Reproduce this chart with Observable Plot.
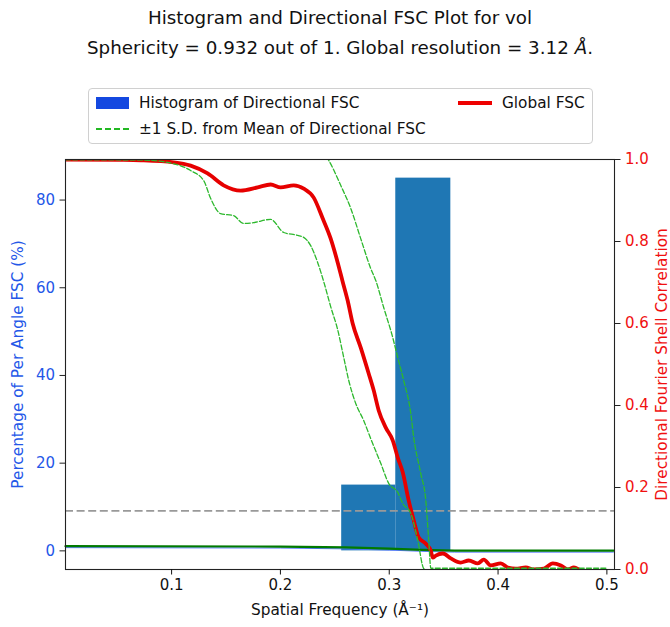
<!DOCTYPE html>
<html><head><meta charset="utf-8">
<script src="https://cdn.jsdelivr.net/npm/d3@7"></script>
<script src="https://cdn.jsdelivr.net/npm/@observablehq/plot@0.6"></script>
<style>
body{margin:0;background:#fff;font-family:"DejaVu Sans",sans-serif;}
#wrap{position:relative;width:670px;height:627px;}
.t{position:absolute;left:0;width:680px;text-align:center;font-size:18.3px;color:#111;white-space:nowrap;line-height:22px;}
#legend{position:absolute;left:88px;top:88px;width:503px;height:54px;border:1px solid #d0d0d0;border-radius:4px;background:#fff;font-size:15.3px;color:#111;line-height:18px;}
.li{position:absolute;white-space:nowrap;}
</style></head>
<body><div id="wrap">
<div class="t" style="top:7px">Histogram and Directional FSC Plot for vol</div>
<div class="t" style="top:37px">Sphericity = 0.932 out of 1. Global resolution = 3.12 <i>Å</i>.</div>
<div id="legend">
 <div class="li" style="left:7px;top:8px;width:33px;height:12px;background:#1448e0"></div>
 <div class="li" style="left:50px;top:5px">Histogram of Directional FSC</div>
 <svg class="li" style="left:6px;top:37px" width="36" height="6"><line x1="1" y1="3" x2="35" y2="3" stroke="#22b822" stroke-width="2" stroke-dasharray="6,3"/></svg>
 <div class="li" style="left:50px;top:31px">±1 S.D. from Mean of Directional FSC</div>
 <svg class="li" style="left:368px;top:10px" width="36" height="8"><line x1="1" y1="4" x2="35" y2="4" stroke="#e00" stroke-width="4"/></svg>
 <div class="li" style="left:413px;top:5px">Global FSC</div>
</div>
<div id="chart"></div>
</div>
<script>
// Histogram of directional FSC (percent, left axis)
const binStart = [0.2563, 0.306];
const binEnd = [0.306, 0.3566];
const binPct = [15, 85];
const pctTicks = [0, 20, 40, 60, 80];
const pctDomain = [-4.25, 89.25];

// Global FSC (right axis)
const gFreq = [0.0025,0.0531,0.0715,0.1018,0.1175,0.1331,0.1478,0.1634,0.1791,0.191,0.2002,0.2122,0.2214,0.2306,0.2389,0.2462,0.2526,0.2572,0.2618,0.2664,0.2738,0.2811,0.2857,0.2903,0.2968,0.3032,0.3078,0.3124,0.3179,0.3225,0.3271,0.3336,0.3382,0.34,0.3428,0.3492,0.3566,0.3657,0.3731,0.3814,0.3869,0.3933,0.4025,0.409,0.4163,0.4255,0.4329,0.4421,0.4503,0.4577,0.4641,0.4697,0.4761,0.49,0.5];
const gFsc = [1.0,0.999,0.998,0.993,0.985,0.966,0.937,0.924,0.932,0.939,0.932,0.937,0.929,0.907,0.856,0.807,0.749,0.702,0.656,0.6,0.541,0.478,0.437,0.388,0.346,0.315,0.273,0.237,0.168,0.12,0.078,0.063,0.046,0.029,0.034,0.039,0.027,0.017,0.022,0.015,0.024,0.01,0.015,0.005,0.002,0.005,0.0,0.002,0.015,0.01,0.0,0.005,-0.002,-0.01,-0.008];

// Mean + 1 S.D.
const upFreq = [0.0025,0.08,0.12,0.18,0.22,0.2444,0.2554,0.2646,0.2738,0.283,0.2876,0.2949,0.3032,0.3078,0.3133,0.3198,0.3225,0.329,0.3336,0.3363,0.3382,0.36,0.5];
const upFsc = [1.0,1.0,1.02,1.06,1.06,0.998,0.937,0.881,0.807,0.734,0.705,0.639,0.566,0.517,0.461,0.381,0.322,0.234,0.168,0.071,0.003,0.003,0.003];
// Mean - 1 S.D.
const loFreq = [0.0025,0.0715,0.0963,0.1175,0.1294,0.1359,0.145,0.157,0.1662,0.1754,0.191,0.203,0.2159,0.2214,0.2278,0.2342,0.2398,0.2462,0.2526,0.2582,0.2628,0.2692,0.2766,0.283,0.2922,0.2995,0.3078,0.3124,0.3198,0.3262,0.3317,0.34,0.5];
const loFsc = [1.0,0.999,0.993,0.973,0.949,0.905,0.868,0.863,0.844,0.846,0.854,0.822,0.815,0.81,0.79,0.749,0.702,0.641,0.585,0.517,0.461,0.405,0.363,0.319,0.259,0.21,0.188,0.161,0.137,0.071,0.002,-0.01,-0.01];

// flat solid line near the bottom
const flatFreq = [0.0025,0.2,0.26,0.3,0.33,0.36,0.506];
const flatFsc = [0.057,0.056,0.054,0.051,0.048,0.046,0.046];

const fscTicks = [0,0.2,0.4,0.6,0.8,1.0];
const xTicks = [0.1,0.2,0.3,0.4,0.5];
const threshold = 0.143;

const pctToY = d3.scaleLinear(pctDomain, [0, 1]);
const zip = (a, b) => a.map((x, i) => ({x, y: b[i]}));
const bars = binPct.map((p, i) => ({x1: binStart[i], x2: binEnd[i], y1: pctToY(0), y2: pctToY(p)}));
const blueTxt = "#2457e8";
const redTxt = "#f01010";
const font = "DejaVu Sans, sans-serif";

const chart = Plot.plot({
  width: 670, height: 627,
  marginTop: 159, marginBottom: 58, marginLeft: 65, marginRight: 56,
  style: {fontFamily: font, fontSize: "15px", color: "#111", background: "white"},
  x: {domain: [0.0025, 0.507]},
  y: {domain: [0, 1]},
  marks: [
    Plot.rect(bars, {x1: "x1", x2: "x2", y1: "y1", y2: "y2", fill: "#1f77b4"}),
    Plot.ruleY([threshold], {stroke: "#999", strokeWidth: 1.6, strokeDasharray: "8,3.6"}),
    Plot.line(zip(flatFreq, flatFsc), {x: "x", y: "y", stroke: "#5577ff", strokeWidth: 1, dy: 1.5}),
    Plot.line(zip(flatFreq, flatFsc), {x: "x", y: "y", stroke: "#007a00", strokeWidth: 2.2}),
    Plot.line(zip(gFreq, gFsc), {x: "x", y: "y", stroke: "#e60000", strokeWidth: 3.8, curve: "monotone-x", clip: true}),
    Plot.line(zip(upFreq, upFsc), {x: "x", y: "y", stroke: "#2db82d", strokeWidth: 1.3, strokeDasharray: "5,2.2", curve: "monotone-x", clip: true}),
    Plot.line(zip(loFreq, loFsc), {x: "x", y: "y", stroke: "#2db82d", strokeWidth: 1.3, strokeDasharray: "5,2.2", curve: "monotone-x", clip: true}),
    Plot.frame({stroke: "#222", strokeWidth: 1.1}),
    Plot.axisX(xTicks, {anchor: "bottom", tickSize: 5.5, tickPadding: 4, tickFormat: d3.format(".1f"), label: null}),
    Plot.axisY(pctTicks.map(pctToY), {anchor: "left", tickSize: 5.5, tickPadding: 5, tickFormat: d => String(Math.round(pctToY.invert(d))), label: null, fill: blueTxt, stroke: "#222"}),
    Plot.axisY(fscTicks, {anchor: "right", tickSize: 5.5, tickPadding: 5, tickFormat: d3.format(".1f"), label: null, fill: redTxt, stroke: "#222"}),
    Plot.text(["Spatial Frequency (Å⁻¹)"], {frameAnchor: "bottom", dy: 41, lineAnchor: "middle", textAnchor: "middle", text: d => d, fontSize: 15.3, fill: "#111"}),
    Plot.text(["Percentage of Per Angle FSC (%)"], {frameAnchor: "left", dx: -47, rotate: -90, lineAnchor: "middle", textAnchor: "middle", text: d => d, fontSize: 15.3, fill: blueTxt}),
    Plot.text(["Directional Fourier Shell Correlation"], {frameAnchor: "right", dx: 48, rotate: -90, lineAnchor: "middle", textAnchor: "middle", text: d => d, fontSize: 15.3, fill: redTxt})
  ]
});
document.getElementById("chart").appendChild(chart);
</script>
</body></html>
